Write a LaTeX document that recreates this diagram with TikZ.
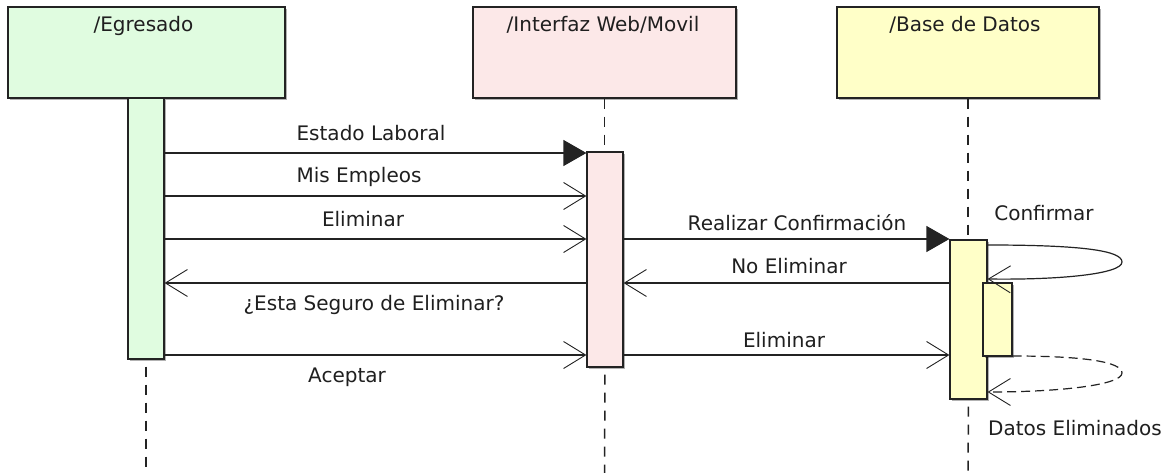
\documentclass[tikz,border=0pt]{standalone}
\usepackage{fontspec}
\setmainfont{DejaVu Sans}
\usetikzlibrary{arrows.meta,shadows}
\definecolor{egrc}{RGB}{224,252,224}
\definecolor{infc}{RGB}{252,232,232}
\definecolor{bdc}{RGB}{255,255,200}
\definecolor{edge}{RGB}{35,35,35}
\tikzset{
  shad/.style={drop shadow={shadow xshift=1.8pt,shadow yshift=-1.8pt,opacity=0.3,fill=black}},
  objbox/.style={draw=edge, line width=1.2pt, minimum width=#1, minimum height=91pt, inner sep=0pt, shad},
  actbar/.style={draw=edge, line width=1.2pt, inner sep=0pt, shad},
  lab/.style={font=\fontsize{20pt}{24pt}\selectfont, inner sep=0pt, anchor=base, text=black!88},
  msg/.style={line width=1.2pt, draw=edge},
  syncmsg/.style={msg, -{Triangle[length=23pt,width=26pt]}},
  asyncmsg/.style={msg, -{Straight Barb[length=22pt,width=27pt,line width=0.9pt]}},
  lifeline/.style={draw=edge, line width=1.5pt, dash pattern=on 10pt off 8pt},
}
\begin{document}
\begin{tikzpicture}[x=1pt,y=-1pt]
\path[fill=white,use as bounding box] (0,0) rectangle (1172,473);

% object boxes
\node[objbox=277pt, fill=egrc] (egr) at (146.5,52.5) {};
\node[objbox=263pt, fill=infc] (inf) at (604.5,52.5) {};
\node[objbox=262pt, fill=bdc] (bd) at (968,52.5) {};
\node[lab] (egrT) at (143.5,32) {/Egresado};
\node[lab] (infT) at (603,32) {/Interfaz Web/Movil};
\node[lab] (bdT) at (965,32) {/Base de Datos};

% lifelines
\coordinate (bottomE) at (146,473);
\coordinate (bottomI) at (604.5,473);
\coordinate (bottomB) at (968,473);
\draw[lifeline] (inf.south) -- (604.5,152);
\draw[lifeline] (bd.south) -- (968,240);

% activation bars
\node[actbar, fill=egrc, minimum width=36pt, minimum height=261pt] (egrBar) at (146,228.5) {};
\node[actbar, fill=infc, minimum width=36pt, minimum height=215pt] (infBar) at (605,259.5) {};
\node[actbar, fill=bdc, minimum width=37pt, minimum height=159pt] (bdBar) at (968.5,319.5) {};
\node[actbar, fill=bdc, minimum width=29pt, minimum height=73pt] (bdBar2) at (997.5,319.5) {};

\draw[lifeline, dash phase=-7pt] (egrBar.south) -- (bottomE);
\draw[lifeline, dash phase=-7pt] (infBar.south) -- (bottomI);
\draw[lifeline, dash phase=-7pt] (bdBar.south) -- (bottomB);

% messages
\draw[syncmsg] (egrBar.east |- 0,153) -- (infBar.west |- 0,153);
\node[lab] (m1) at (371,141) {Estado Laboral};
\draw[asyncmsg] (egrBar.east |- 0,196) -- (infBar.west |- 0,196);
\node[lab] (m2) at (359,183) {Mis Empleos};
\draw[asyncmsg] (egrBar.east |- 0,239) -- (infBar.west |- 0,239);
\node[lab] (m3) at (363,226) {Eliminar};
\draw[asyncmsg] (infBar.west |- 0,283) -- (egrBar.east |- 0,283);
\node[lab] (m4) at (374,310) {¿Esta Seguro de Eliminar?};
\draw[asyncmsg] (egrBar.east |- 0,355) -- (infBar.west |- 0,355);
\node[lab] (m5) at (347,382) {Aceptar};

\draw[syncmsg] (infBar.east |- 0,239) -- (bdBar.west |- 0,239);
\node[lab] (m6) at (797,230) {Realizar Confirmación};
\draw[asyncmsg] (bdBar.west |- 0,283) -- (infBar.east |- 0,283);
\node[lab] (m7) at (789,273) {No Eliminar};
\draw[asyncmsg] (infBar.east |- 0,355) -- (bdBar.west |- 0,355);
\node[lab] (m8) at (784,347) {Eliminar};

% self messages
\draw[asyncmsg] (bdBar.east |- 0,245) .. controls (1085,245) and (1122,251) .. (1122,262)
   .. controls (1122,274) and (1060,280) .. (bdBar.east |- 0,279);
\node[lab] (m9) at (1044,221) {Confirmar};
\draw[asyncmsg, dash pattern=on 9pt off 5pt] (bdBar2.east |- 0,356) .. controls (1085,356) and (1122,362) .. (1122,373)
   .. controls (1122,385) and (1060,392) .. (bdBar.east |- 0,392);
\node[lab] (m10) at (1075,435) {Datos Eliminados};
\end{tikzpicture}
\end{document}
